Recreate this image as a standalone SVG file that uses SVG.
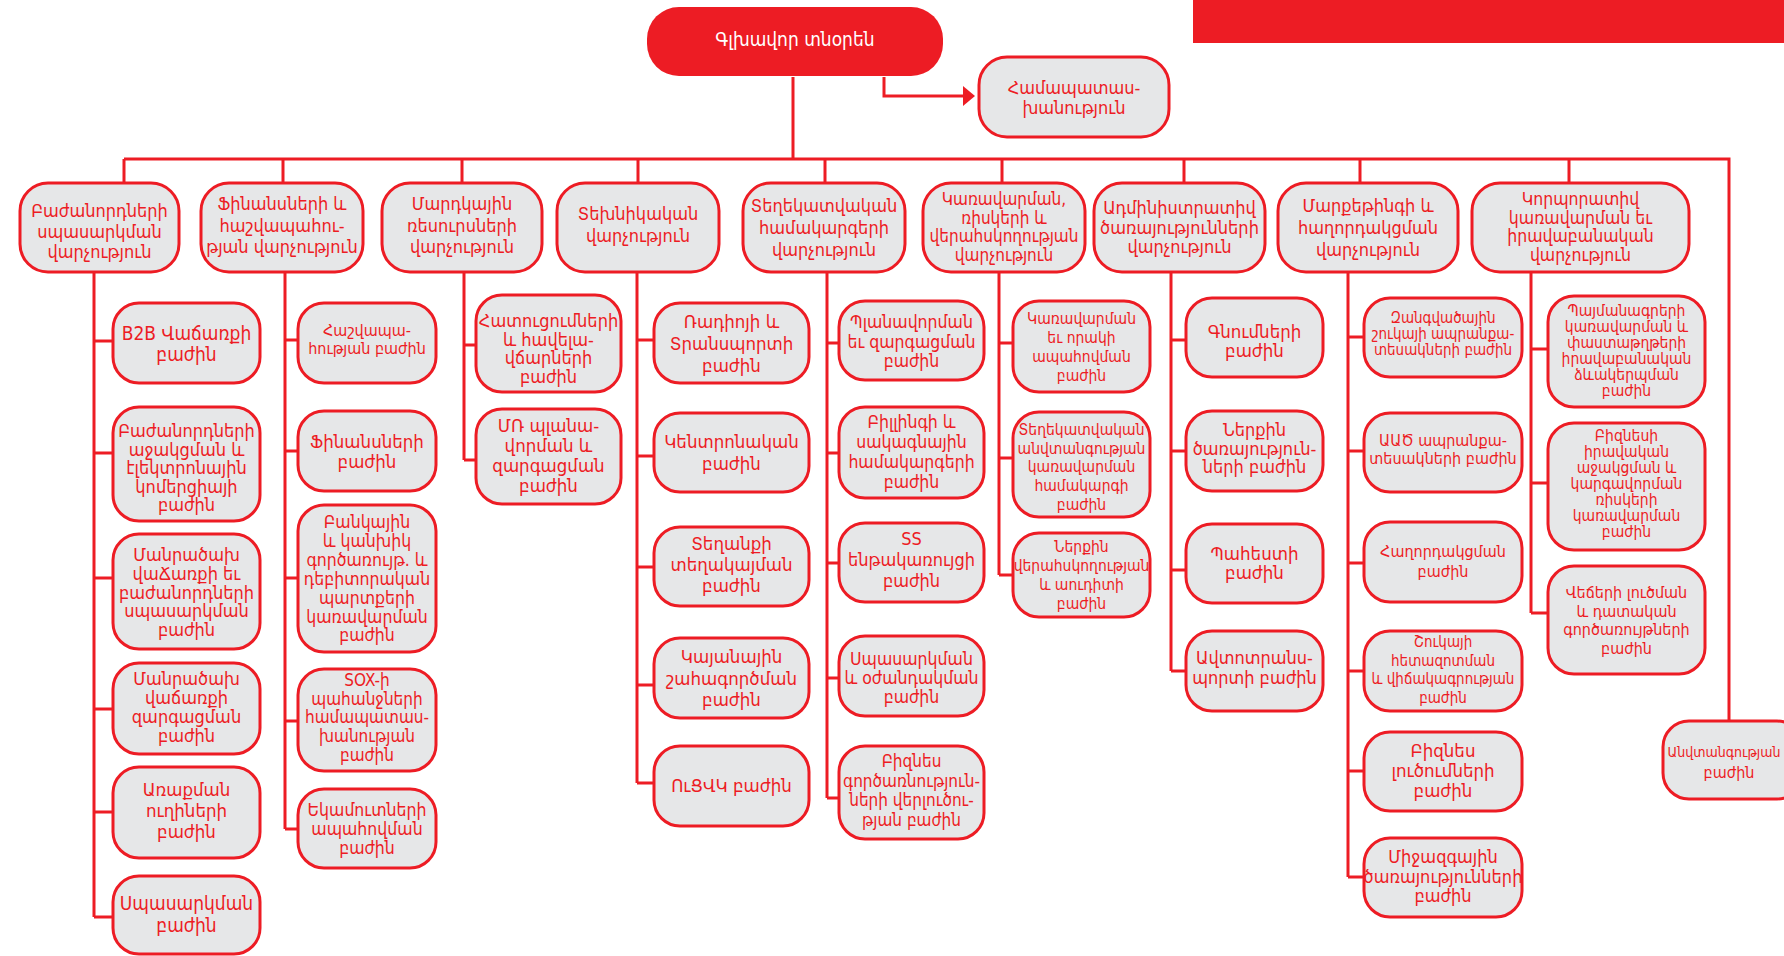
<svg xmlns="http://www.w3.org/2000/svg" width="1784" height="956" viewBox="0 0 1784 956">
<style>
.n rect{fill:#E6E7E8;stroke:#ED1C24;stroke-width:3}
.n text{fill:#ED1C24;font-family:"DejaVu Sans Condensed","DejaVu Sans",sans-serif;text-anchor:middle}
.c{fill:none;stroke:#ED1C24;stroke-width:3}
</style>
<defs>
<marker id="arr" viewBox="0 0 12 20" refX="0" refY="10" markerWidth="12" markerHeight="20" markerUnits="userSpaceOnUse" orient="auto"><path d="M0,0 L12,10 L0,20 Z" fill="#ED1C24"/></marker>
</defs>
<rect x="1193" y="0" width="591" height="43" fill="#ED1C24"/>
<g id="connectors" class="c">
<path d="M793 77V159M124 159H1729V721"/>
<path d="M884 77V96H963" marker-end="url(#arr)"/>
<path d="M124 159V183M283 159V183M462 159V183M638 159V183M825 159V183M1002 159V183M1184 159V183M1360 159V183M1569 159V183"/>
<path d="M94 272V917M94 341H113M94 453H113M94 578H113M94 709H113M94 812H113M94 917H113"/>
<path d="M285 272V829M285 340H298M285 451H298M285 578H298M285 721H298M285 829H298"/>
<path d="M464 272V460M464 345H476M464 460H476"/>
<path d="M637 272V783M637 340H654M637 456H654M637 567H654M637 685H654M637 783H654"/>
<path d="M827 272V798M827 343H839M827 453H839M827 563H839M827 678H839M827 798H839"/>
<path d="M999 272V575M999 343H1013M999 458H1013M999 575H1013"/>
<path d="M1171 272V671M1171 340H1186M1171 451H1186M1171 570H1186M1171 671H1186"/>
<path d="M1348 272V877M1348 337H1364M1348 451H1364M1348 563H1364M1348 671H1364M1348 771H1364M1348 877H1364"/>
<path d="M1531 272V613M1531 349H1548M1531 483H1548M1531 613H1548"/>
</g>
<g id="ceo"><rect x="647" y="7" width="296" height="69" rx="32" fill="#ED1C24"/><text x="795" y="46" fill="#fff" font-family="DejaVu Sans Condensed,DejaVu Sans,sans-serif" font-size="19" text-anchor="middle">Գլխավոր տնօրեն</text></g>
<g id="compliance" class="n"><rect x="979" y="57" width="190" height="80" rx="28"/><text x="1074" y="94" font-size="18"><tspan x="1074">Համապատաս-</tspan><tspan x="1074" dy="20">խանություն</tspan></text></g>

<g id="d1" class="n"><rect x="20" y="183" width="159" height="89" rx="28"/><text y="217" font-size="18"><tspan x="99.5">Բաժանորդների</tspan><tspan x="99.5" dy="20.5">սպասարկման</tspan><tspan x="99.5" dy="20.5">վարչություն</tspan></text></g>
<g id="d2" class="n"><rect x="201" y="183" width="162" height="89" rx="28"/><text y="210" font-size="18"><tspan x="282">Ֆինանսների և</tspan><tspan x="282" dy="21.5">հաշվապահու-</tspan><tspan x="282" dy="21.5">թյան վարչություն</tspan></text></g>
<g id="d3" class="n"><rect x="382" y="183" width="160" height="89" rx="28"/><text y="210" font-size="18"><tspan x="462">Մարդկային</tspan><tspan x="462" dy="21.5">ռեսուրսների</tspan><tspan x="462" dy="21.5">վարչություն</tspan></text></g>
<g id="d4" class="n"><rect x="557" y="183" width="162" height="89" rx="28"/><text y="220" font-size="18"><tspan x="638">Տեխնիկական</tspan><tspan x="638" dy="22">վարչություն</tspan></text></g>
<g id="d5" class="n"><rect x="743" y="183" width="162" height="89" rx="28"/><text y="212" font-size="18"><tspan x="824">Տեղեկատվական</tspan><tspan x="824" dy="22">համակարգերի</tspan><tspan x="824" dy="22">վարչություն</tspan></text></g>
<g id="d6" class="n"><rect x="923" y="183" width="162" height="89" rx="28"/><text y="205" font-size="17"><tspan x="1004">Կառավարման,</tspan><tspan x="1004" dy="18.7">ռիսկերի և</tspan><tspan x="1004" dy="18.7">վերահսկողության</tspan><tspan x="1004" dy="18.7">վարչություն</tspan></text></g>
<g id="d7" class="n"><rect x="1094" y="183" width="171" height="89" rx="28"/><text y="214" font-size="18"><tspan x="1179.5">Ադմինիստրատիվ</tspan><tspan x="1179.5" dy="19.5">ծառայությունների</tspan><tspan x="1179.5" dy="19.5">վարչություն</tspan></text></g>
<g id="d8" class="n"><rect x="1278" y="183" width="180" height="89" rx="28"/><text y="212" font-size="18"><tspan x="1368">Մարքեթինգի և</tspan><tspan x="1368" dy="22">հաղորդակցման</tspan><tspan x="1368" dy="22">վարչություն</tspan></text></g>
<g id="d9" class="n"><rect x="1472" y="183" width="217" height="89" rx="28"/><text y="205" font-size="17.5"><tspan x="1580.5">Կորպորատիվ</tspan><tspan x="1580.5" dy="18.7">կառավարման եւ</tspan><tspan x="1580.5" dy="18.7">իրավաբանական</tspan><tspan x="1580.5" dy="18.7">վարչություն</tspan></text></g>

<g id="d1a" class="n"><rect x="113" y="303" width="147" height="80" rx="26"/><text y="340" font-size="19"><tspan x="186.5">B2B Վաճառքի</tspan><tspan x="186.5" dy="21">բաժին</tspan></text></g>
<g id="d1b" class="n"><rect x="113" y="407" width="147" height="114" rx="26"/><text y="437" font-size="18"><tspan x="186.5">Բաժանորդների</tspan><tspan x="186.5" dy="18.6">աջակցման և</tspan><tspan x="186.5" dy="18.6">էլեկտրոնային</tspan><tspan x="186.5" dy="18.6">կոմերցիայի</tspan><tspan x="186.5" dy="18.6">բաժին</tspan></text></g>
<g id="d1c" class="n"><rect x="113" y="534" width="147" height="115" rx="26"/><text y="561" font-size="18"><tspan x="186.5">Մանրածախ</tspan><tspan x="186.5" dy="18.8">վաՃառքի եւ</tspan><tspan x="186.5" dy="18.8">բաժանորդների</tspan><tspan x="186.5" dy="18.8">սպասարկման</tspan><tspan x="186.5" dy="18.8">բաժին</tspan></text></g>
<g id="d1d" class="n"><rect x="113" y="663" width="147" height="91" rx="26"/><text y="685" font-size="18"><tspan x="186.5">Մանրածախ</tspan><tspan x="186.5" dy="19">վաճառքի</tspan><tspan x="186.5" dy="19">զարգացման</tspan><tspan x="186.5" dy="19">բաժին</tspan></text></g>
<g id="d1e" class="n"><rect x="113" y="767" width="147" height="91" rx="26"/><text y="796" font-size="18.5"><tspan x="186.5">Առաքման</tspan><tspan x="186.5" dy="21">ուղիների</tspan><tspan x="186.5" dy="21">բաժին</tspan></text></g>
<g id="d1f" class="n"><rect x="113" y="876" width="147" height="78" rx="26"/><text y="910" font-size="19"><tspan x="186.5">Սպասարկման</tspan><tspan x="186.5" dy="22">բաժին</tspan></text></g>

<g id="d2a" class="n"><rect x="298" y="303" width="138" height="80" rx="26"/><text y="336" font-size="16"><tspan x="367">Հաշվապա-</tspan><tspan x="367" dy="18">հության բաժին</tspan></text></g>
<g id="d2b" class="n"><rect x="298" y="411" width="138" height="80" rx="26"/><text y="448" font-size="18.5"><tspan x="367">Ֆինանսների</tspan><tspan x="367" dy="20">բաժին</tspan></text></g>
<g id="d2c" class="n"><rect x="298" y="505" width="138" height="147" rx="26"/><text y="528" font-size="17.5"><tspan x="367">Բանկային</tspan><tspan x="367" dy="18.9">և կանխիկ</tspan><tspan x="367" dy="18.9">գործառույթ. և</tspan><tspan x="367" dy="18.9">դեբիտորական</tspan><tspan x="367" dy="18.9">պարտքերի</tspan><tspan x="367" dy="18.9">կառավարման</tspan><tspan x="367" dy="18.9">բաժին</tspan></text></g>
<g id="d2d" class="n"><rect x="298" y="669" width="138" height="102" rx="26"/><text y="686" font-size="17"><tspan x="367">SOX-ի</tspan><tspan x="367" dy="18.7">պահանջների</tspan><tspan x="367" dy="18.7">համապատաս-</tspan><tspan x="367" dy="18.7">խանության</tspan><tspan x="367" dy="18.7">բաժին</tspan></text></g>
<g id="d2e" class="n"><rect x="298" y="789" width="138" height="79" rx="26"/><text y="816" font-size="17.5"><tspan x="367">Եկամուտների</tspan><tspan x="367" dy="19">ապահովման</tspan><tspan x="367" dy="19">բաժին</tspan></text></g>

<g id="d3a" class="n"><rect x="476" y="295" width="145" height="97" rx="26"/><text y="327" font-size="18"><tspan x="548.5">Հատուցումների</tspan><tspan x="548.5" dy="18.5">և հավելա-</tspan><tspan x="548.5" dy="18.5">վճարների</tspan><tspan x="548.5" dy="18.5">բաժին</tspan></text></g>
<g id="d3b" class="n"><rect x="476" y="409" width="145" height="95" rx="26"/><text y="432" font-size="18.5"><tspan x="548.5">ՄՌ պլանա-</tspan><tspan x="548.5" dy="20">վորման և</tspan><tspan x="548.5" dy="20">զարգացման</tspan><tspan x="548.5" dy="20">բաժին</tspan></text></g>

<g id="d4a" class="n"><rect x="654" y="303" width="155" height="80" rx="26"/><text y="328" font-size="18.5"><tspan x="731.5">Ռադիոյի և</tspan><tspan x="731.5" dy="22">Տրանսպորտի</tspan><tspan x="731.5" dy="22">բաժին</tspan></text></g>
<g id="d4b" class="n"><rect x="654" y="413" width="155" height="79" rx="26"/><text y="448" font-size="18.5"><tspan x="731.5">Կենտրոնական</tspan><tspan x="731.5" dy="22">բաժին</tspan></text></g>
<g id="d4c" class="n"><rect x="654" y="527" width="155" height="79" rx="26"/><text y="550" font-size="18.5"><tspan x="731.5">Տեղանքի</tspan><tspan x="731.5" dy="21">տեղակայման</tspan><tspan x="731.5" dy="21">բաժին</tspan></text></g>
<g id="d4d" class="n"><rect x="654" y="638" width="155" height="80" rx="26"/><text y="663" font-size="18.5"><tspan x="731.5">Կայանային</tspan><tspan x="731.5" dy="21.5">շահագործման</tspan><tspan x="731.5" dy="21.5">բաժին</tspan></text></g>
<g id="d4e" class="n"><rect x="654" y="746" width="155" height="80" rx="26"/><text y="792" font-size="18.5"><tspan x="731.5">ՈւՑՎԿ բաժին</tspan></text></g>

<g id="d5a" class="n"><rect x="839" y="301" width="145" height="79" rx="26"/><text y="328" font-size="17.5"><tspan x="911.5">Պլանավորման</tspan><tspan x="911.5" dy="19.5">եւ զարգացման</tspan><tspan x="911.5" dy="19.5">բաժին</tspan></text></g>
<g id="d5b" class="n"><rect x="839" y="407" width="145" height="91" rx="26"/><text y="428" font-size="17.5"><tspan x="911.5">Բիլլինգի և</tspan><tspan x="911.5" dy="20">սակագնային</tspan><tspan x="911.5" dy="20">համակարգերի</tspan><tspan x="911.5" dy="20">բաժին</tspan></text></g>
<g id="d5c" class="n"><rect x="839" y="523" width="145" height="79" rx="26"/><text y="545" font-size="18"><tspan x="911.5">SS</tspan><tspan x="911.5" dy="21">ենթակառույցի</tspan><tspan x="911.5" dy="21">բաժին</tspan></text></g>
<g id="d5d" class="n"><rect x="839" y="636" width="145" height="80" rx="26"/><text y="665" font-size="17.5"><tspan x="911.5">Սպասարկման</tspan><tspan x="911.5" dy="19">և օժանդակման</tspan><tspan x="911.5" dy="19">բաժին</tspan></text></g>
<g id="d5e" class="n"><rect x="839" y="746" width="145" height="93" rx="26"/><text y="767" font-size="17"><tspan x="911.5">Բիզնես</tspan><tspan x="911.5" dy="19.7">գործառնություն-</tspan><tspan x="911.5" dy="19.7">ների վերլուծու-</tspan><tspan x="911.5" dy="19.7">թյան բաժին</tspan></text></g>

<g id="d6a" class="n"><rect x="1013" y="301" width="137" height="91" rx="26"/><text y="324" font-size="15.5"><tspan x="1081.5">Կառավարման</tspan><tspan x="1081.5" dy="19">եւ որակի</tspan><tspan x="1081.5" dy="19">ապահովման</tspan><tspan x="1081.5" dy="19">բաժին</tspan></text></g>
<g id="d6b" class="n"><rect x="1013" y="412" width="137" height="105" rx="26"/><text y="435" font-size="15.5"><tspan x="1081.5">Տեղեկատվական</tspan><tspan x="1081.5" dy="18.7">անվտանգության</tspan><tspan x="1081.5" dy="18.7">կառավարման</tspan><tspan x="1081.5" dy="18.7">համակարգի</tspan><tspan x="1081.5" dy="18.7">բաժին</tspan></text></g>
<g id="d6c" class="n"><rect x="1013" y="533" width="137" height="84" rx="26"/><text y="552" font-size="15.5"><tspan x="1081.5">Ներքին</tspan><tspan x="1081.5" dy="19">վերահսկողության</tspan><tspan x="1081.5" dy="19">և աուդիտի</tspan><tspan x="1081.5" dy="19">բաժին</tspan></text></g>

<g id="d7a" class="n"><rect x="1186" y="298" width="137" height="79" rx="26"/><text y="338" font-size="18.5"><tspan x="1254.5">Գնումների</tspan><tspan x="1254.5" dy="19">բաժին</tspan></text></g>
<g id="d7b" class="n"><rect x="1186" y="411" width="137" height="80" rx="26"/><text y="436" font-size="18"><tspan x="1254.5">Ներքին</tspan><tspan x="1254.5" dy="18.5">ծառայություն-</tspan><tspan x="1254.5" dy="18.5">ների բաժին</tspan></text></g>
<g id="d7c" class="n"><rect x="1186" y="524" width="137" height="79" rx="26"/><text y="560" font-size="18.5"><tspan x="1254.5">Պահեստի</tspan><tspan x="1254.5" dy="19">բաժին</tspan></text></g>
<g id="d7d" class="n"><rect x="1186" y="631" width="137" height="80" rx="26"/><text y="664" font-size="18"><tspan x="1254.5">Ավտոտրանս-</tspan><tspan x="1254.5" dy="20">պորտի բաժին</tspan></text></g>

<g id="d8a" class="n"><rect x="1364" y="298" width="158" height="79" rx="26"/><text y="323" font-size="15"><tspan x="1443">Զանգվածային</tspan><tspan x="1443" dy="16">շուկայի ապրանքա-</tspan><tspan x="1443" dy="16">տեսակների բաժին</tspan></text></g>
<g id="d8b" class="n"><rect x="1364" y="413" width="158" height="79" rx="26"/><text y="446" font-size="16"><tspan x="1443">ԱԱԾ ապրանքա-</tspan><tspan x="1443" dy="17.5">տեսակների բաժին</tspan></text></g>
<g id="d8c" class="n"><rect x="1364" y="522" width="158" height="80" rx="26"/><text y="557" font-size="16"><tspan x="1443">Հաղորդակցման</tspan><tspan x="1443" dy="20">բաժին</tspan></text></g>
<g id="d8d" class="n"><rect x="1364" y="631" width="158" height="80" rx="26"/><text y="647" font-size="15"><tspan x="1443">Շուկայի</tspan><tspan x="1443" dy="18.7">հետազոտման</tspan><tspan x="1443" dy="18.7">և վիճակագրության</tspan><tspan x="1443" dy="18.7">բաժին</tspan></text></g>
<g id="d8e" class="n"><rect x="1364" y="732" width="158" height="79" rx="26"/><text y="757" font-size="18.5"><tspan x="1443">Բիզնես</tspan><tspan x="1443" dy="20">լուծումների</tspan><tspan x="1443" dy="20">բաժին</tspan></text></g>
<g id="d8f" class="n"><rect x="1364" y="838" width="158" height="79" rx="26"/><text y="863" font-size="18"><tspan x="1443">Միջազգային</tspan><tspan x="1443" dy="19.5">ծառայությունների</tspan><tspan x="1443" dy="19.5">բաժին</tspan></text></g>

<g id="d9a" class="n"><rect x="1548" y="296" width="157" height="111" rx="26"/><text y="316" font-size="15.5"><tspan x="1626.5">Պայմանագրերի</tspan><tspan x="1626.5" dy="16">կառավարման և</tspan><tspan x="1626.5" dy="16">փաստաթղթերի</tspan><tspan x="1626.5" dy="16">իրավաբանական</tspan><tspan x="1626.5" dy="16">ձևակերպման</tspan><tspan x="1626.5" dy="16">բաժին</tspan></text></g>
<g id="d9b" class="n"><rect x="1548" y="423" width="157" height="127" rx="26"/><text y="441" font-size="15.5"><tspan x="1626.5">Բիզնեսի</tspan><tspan x="1626.5" dy="16">իրավական</tspan><tspan x="1626.5" dy="16">աջակցման և</tspan><tspan x="1626.5" dy="16">կարգավորման</tspan><tspan x="1626.5" dy="16">ռիսկերի</tspan><tspan x="1626.5" dy="16">կառավարման</tspan><tspan x="1626.5" dy="16">բաժին</tspan></text></g>
<g id="d9c" class="n"><rect x="1548" y="566" width="157" height="108" rx="26"/><text y="598" font-size="16"><tspan x="1626.5">Վեճերի լուծման</tspan><tspan x="1626.5" dy="18.7">և դատական</tspan><tspan x="1626.5" dy="18.7">գործառույթների</tspan><tspan x="1626.5" dy="18.7">բաժին</tspan></text></g>

<g id="security" class="n"><rect x="1663" y="721" width="140" height="78" rx="26"/><text font-size="14"><tspan x="1724" y="757">Անվտանգության</tspan><tspan x="1729" y="778" font-size="16">բաժին</tspan></text></g>
</svg>
